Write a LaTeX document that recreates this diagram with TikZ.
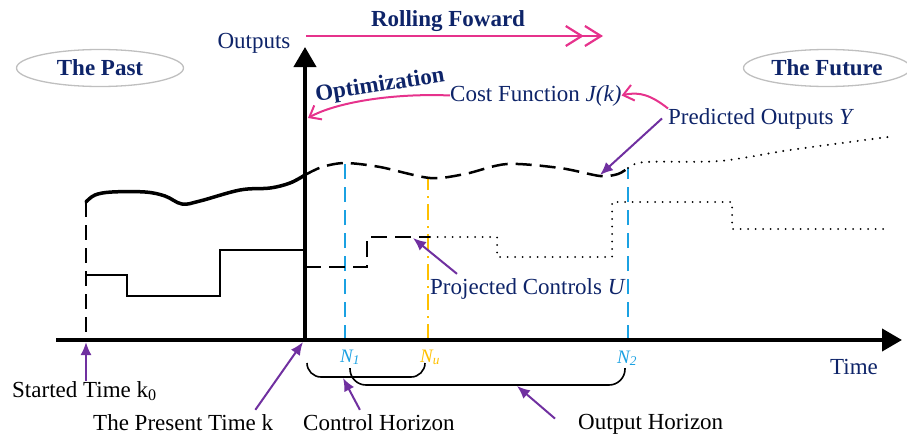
\documentclass[tikz,border=0pt]{standalone}
\usepackage{fontspec}
\setmainfont{Liberation Serif}
\usetikzlibrary{arrows.meta,shapes.geometric}
\definecolor{navy}{RGB}{14,36,105}
\definecolor{rose}{RGB}{230,50,140}
\definecolor{arrowpurple}{RGB}{112,48,160}
\definecolor{skyblue}{RGB}{27,161,226}
\definecolor{amber}{RGB}{255,192,0}
\begin{document}
\begin{tikzpicture}[x=1pt,y=-1pt,font=\fontsize{23}{27}\selectfont,
  lbl/.style={inner sep=0pt,text=navy},
  blk/.style={inner sep=0pt,text=black},
  era/.style={ellipse,draw=gray!50,line width=1.3pt,minimum width=167pt,minimum height=37pt,inner sep=0pt,text=navy,font=\fontsize{23}{27}\selectfont\bfseries},
  pointer/.style={arrowpurple,line width=2pt,-{Latex[length=13pt,width=11pt]}},
  pinkarrow/.style={rose,line width=2pt,-{Straight Barb[length=10pt,width=16pt]}},
  hzn/.style={skyblue,line width=2.5pt,dash pattern=on 15pt off 8pt},
  dotline/.style={line width=2.2pt,line cap=round,dash pattern=on 0pt off 7.5pt},
  axis/.style={line width=4pt,-{Triangle[length=20pt,width=22pt]}},
  idx/.style={inner sep=0pt,font=\fontsize{19}{22}\selectfont\itshape}]
\useasboundingbox (0,0) rectangle (907,439);

% axes
\coordinate (origin) at (305,340);
\coordinate (tstart) at (56,340);
\coordinate (tend) at (902,340);
\coordinate (ytop) at (305,47);
\draw[line width=2.5pt,dash pattern=on 15pt off 8pt] (86,202) -- (86,340);
\draw[hzn] (345,340) -- (345,163);
\draw[amber,line width=2pt,dash pattern=on 16pt off 6pt on 2pt off 6pt] (428,340) -- (428,178);
\draw[hzn] (628,340) -- (628,168);
\draw[axis] (tstart) -- (tend);
\draw[axis] (origin) -- (ytop);

% outputs: past, predicted, beyond the horizon
\draw[line width=3.5pt,line cap=round] plot[smooth,tension=0.6] coordinates {(86,202) (95,195) (112,192) (145,192) (165,196) (182,204) (200,201) (240,190) (270,188) (290,183) (305,175)};
\draw[line width=2.5pt,dash pattern=on 16pt off 8pt] plot[smooth] coordinates {(305,175) (322,167) (345,163) (380,167) (430,178) (465,174) (507,164) (560,168) (600,176) (618,174) (628,168)};
\draw[dotline] plot[smooth] coordinates {(628,168) (645,162) (720,161) (790,150) (888,137)};

% controls
\draw[line width=1.6pt] (86,275) -- (127,275) -- (127,296) -- (220,296) -- (220,250) -- (305,250);
\draw[line width=2pt,dash pattern=on 16pt off 8pt] (305,267) -- (367,267) -- (367,237) -- (430,237);
\draw[dotline,line width=2pt] (430,237) -- (497,237) -- (497,257) -- (612,257) -- (612,202) -- (732,202) -- (732,229) -- (890,229);

% horizons
\draw[line width=1.6pt,rounded corners=14pt] (307,363) -- (307,377) -- (425,377) -- (425,363);
\draw[line width=1.6pt,rounded corners=16pt] (350,368) -- (350,385) -- (625,385) -- (625,368);

% labels
\node[era] (past) at (100,68) {The Past};
\node[era] (future) at (827,68) {The Future};
\node[lbl,anchor=base] (outputs) at (254,48) {Outputs};
\node[lbl,anchor=base,font=\fontsize{23}{27}\selectfont\bfseries] (rolling) at (448,27) {Rolling Foward};
\node[lbl,rotate=9,font=\fontsize{23}{27}\selectfont\bfseries] (optim) at (380,86) {Optimization};
\node[lbl,anchor=base west] (cost) at (450,101) {Cost Function \textit{J(k)}};
\node[lbl,anchor=base west] (predlbl) at (668,124) {Predicted Outputs \textit{Y}};
\node[lbl,anchor=base west] (projlbl) at (430,294) {Projected Controls \textit{U}};
\node[lbl,anchor=base west] (time) at (830,374) {Time};
\node[idx,anchor=base west,text=skyblue] (n1) at (340,362) {N\textsubscript{1}};
\node[idx,anchor=base west,text=amber] (nu) at (420,362) {N\textsubscript{u}};
\node[idx,anchor=base west,text=skyblue] (n2) at (617,363) {N\textsubscript{2}};
\node[blk,anchor=base west] (startlbl) at (12,397) {Started Time k\textsubscript{0}};
\node[blk,anchor=base west] (presentlbl) at (93,430) {The Present Time k};
\node[blk,anchor=base west] (ctrlhor) at (303,430) {Control Horizon};
\node[blk,anchor=base west] (outhor) at (578,429) {Output Horizon};

% rolling forward
\coordinate (rollstart) at (306,36);
\coordinate (rollend) at (603,36);
\draw[rose,line width=2.2pt,-{Straight Barb[length=16pt,width=20pt] Straight Barb[length=16pt,width=20pt]}] (rollstart) -- (rollend);

% optimization loop
\coordinate (opttip) at (308,118);
\draw[pinkarrow] (cost.west) .. controls (390,93) and (335,103) .. (opttip);
\draw[pinkarrow] ([yshift=10pt]predlbl.west) .. controls (652,96) and (640,91) .. (cost.east);

% pointers
\coordinate (k0) at (86,342);
\coordinate (know) at (303,342);
\coordinate (ctrlpt) at (343,378);
\coordinate (outpt) at (517,386);
\coordinate (upt) at (413,238);
\coordinate (ypt) at (600,175);
\draw[pointer] (startlbl.north -| k0) -- (k0);
\draw[pointer] ([xshift=-18pt,yshift=4pt]presentlbl.north east) -- (know);
\draw[pointer] ([xshift=-19pt,yshift=4pt]ctrlhor.north) -- (ctrlpt);
\draw[pointer] ([xshift=-23pt,yshift=-5pt]outhor.north west) -- (outpt);
\draw[pointer] ([xshift=27pt,yshift=4pt]projlbl.north west) -- (upt);
\draw[pointer] ([xshift=-6pt]predlbl.west) -- (ypt);
\end{tikzpicture}
\end{document}
